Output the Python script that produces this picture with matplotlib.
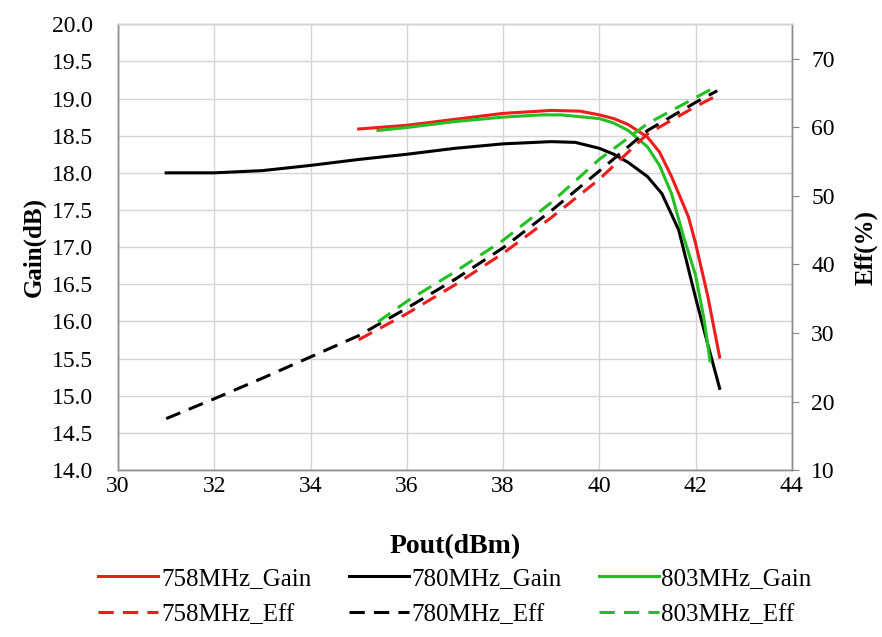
import matplotlib
matplotlib.use("Agg")
import matplotlib.pyplot as plt
import numpy as np

plt.rcParams['font.family'] = ['Liberation Serif', 'DejaVu Serif']

# Pout (dBm) and gain (dB)
p758_gain = [35.0, 36.0, 37.0, 38.0, 39.0, 39.6, 40.0, 40.3, 40.6, 41.0, 41.25, 41.5, 41.85, 42.0, 42.25, 42.5]
g758 = [18.59, 18.64, 18.72, 18.80, 18.84, 18.83, 18.78, 18.73, 18.65, 18.48, 18.28, 17.95, 17.41, 17.05, 16.35, 15.52]

p780_gain = [31.0, 32.0, 33.0, 34.0, 35.0, 36.0, 37.0, 38.0, 39.0, 39.5, 40.0, 40.3, 40.6, 41.0, 41.3, 41.65, 42.0, 42.25, 42.5]
g780 = [18.00, 18.00, 18.03, 18.10, 18.18, 18.25, 18.33, 18.39, 18.42, 18.41, 18.33, 18.25, 18.14, 17.95, 17.72, 17.23, 16.32, 15.70, 15.10]

p803_gain = [35.4, 36.0, 37.0, 38.0, 38.8, 39.2, 40.0, 40.3, 40.6, 41.0, 41.25, 41.5, 41.75, 42.0, 42.17, 42.3]
g803 = [18.57, 18.61, 18.69, 18.75, 18.78, 18.78, 18.73, 18.67, 18.57, 18.35, 18.10, 17.72, 17.14, 16.62, 16.05, 15.47]

# efficiency (%)
p758_eff = [35.0, 36.0, 37.0, 38.0, 39.0, 40.0, 41.0, 42.0, 42.5]
e758 = [29.0, 32.8, 37.0, 41.6, 46.8, 52.4, 59.0, 63.0, 64.8]

p780_eff = [31.0, 32.0, 33.0, 34.0, 35.0, 36.0, 37.0, 38.0, 39.0, 40.0, 41.0, 42.0, 42.45]
e780 = [17.5, 20.4, 23.4, 26.5, 29.6, 33.6, 37.8, 42.4, 47.8, 53.6, 59.5, 63.6, 65.3]

p803_eff = [35.4, 36.0, 37.0, 38.0, 39.0, 40.0, 41.0, 42.0, 42.4]
e803 = [31.6, 34.6, 38.9, 43.5, 49.0, 55.3, 60.5, 64.3, 65.8]

red = '#ee1c1c'
black = '#000000'
green = '#22c022'

fig = plt.figure(figsize=(8.82, 6.37), dpi=100)
ax = fig.add_axes([0.1338, 0.262, 0.764, 0.700])
ax2 = ax.twinx()

lw = 2.2
dash = (0, (5, 3))
l1, = ax.plot(p758_gain, g758, color=red, lw=lw, label='758MHz_Gain')
l2, = ax.plot(p780_gain, g780, color=black, lw=lw, label='780MHz_Gain')
l3, = ax.plot(p803_gain, g803, color=green, lw=lw, label='803MHz_Gain')
d1, = ax2.plot(p758_eff, e758, color=red, lw=lw, ls=dash, label='758MHz_Eff')
d2, = ax2.plot(p780_eff, e780, color=black, lw=lw, ls=dash, label='780MHz_Eff')
d3, = ax2.plot(p803_eff, e803, color=green, lw=lw, ls=dash, label='803MHz_Eff')

ax.set_xlim(30, 44)
ax.set_ylim(14, 20)
ax.set_xticks(np.arange(30, 45, 2))
ax.set_yticks(np.arange(14, 20.01, 0.5))
ax.yaxis.set_major_formatter(matplotlib.ticker.FormatStrFormatter('%.1f'))
ax.grid(True, color='#d4d4d4', lw=1.0)
ax.set_axisbelow(True)
ax.tick_params(axis='x', length=0, labelsize=17, pad=4)
ax.tick_params(axis='y', length=0, labelsize=17, pad=18)

ax2.set_ylim(10, 75)
ax2.set_yticks(np.arange(10, 71, 10))
ax2.tick_params(axis='y', length=5, color='#888888', labelsize=17, direction='out', pad=9)

for a in (ax, ax2):
    for s in a.spines.values():
        s.set_color('#8c8c8c')
        s.set_linewidth(1.0)
    a.spines['top'].set_color('#d4d4d4')

ax.set_xlabel('Pout(dBm)', fontsize=20, fontweight='bold', labelpad=27)
ax.set_ylabel('Gain(dB)', fontsize=18, fontweight='bold', labelpad=4)
ax2.set_ylabel('Eff(%)', fontsize=18, fontweight='bold', labelpad=14)

handles = [l1, d1, l2, d2, l3, d3]
fig.legend(handles=handles, loc='upper center', bbox_to_anchor=(0.516, 0.125), ncol=3,
           frameon=False, fontsize=18, handlelength=2.4, handletextpad=0.1,
           columnspacing=1.5, labelspacing=0.55, borderaxespad=0)

fig.savefig('out.png', dpi=100)
